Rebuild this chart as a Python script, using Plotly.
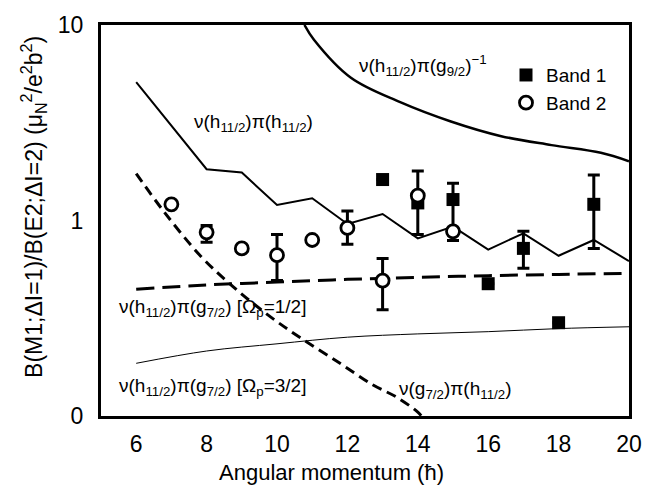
import plotly.graph_objects as go

FONT = "Liberation Sans, Arial, Helvetica, sans-serif"

# Band data (open circles = Band 2, filled squares = Band 1)
band2_x = [7, 8, 9, 10, 11, 12, 13, 14, 15]
band2_y = [1.21, 0.87, 0.72, 0.665, 0.795, 0.916, 0.493, 1.34, 0.88]
band2_err_up = [None, 0.074, None, 0.184, None, 0.204, 0.147, None, None]
band2_err_dn = [None, 0.096, None, 0.172, None, 0.159, 0.143, None, None]

band1_x = [13, 14, 15, 16, 17, 18, 19]
band1_y = [1.62, 1.23, 1.28, 0.475, 0.72, 0.30, 1.21]
band1_err_up = [None, 0.56, 0.27, None, 0.16, None, 0.50]
band1_err_dn = [None, 0.382, 0.49, None, 0.15, None, 0.49]

# Theoretical curves
hh_x = [6, 8, 9, 10, 11, 12, 13, 14, 15, 16, 17, 18, 19, 20]
hh_y = [5.1, 1.83, 1.76, 1.2, 1.30, 0.96, 1.08, 0.81, 0.93, 0.71, 0.86, 0.66, 0.795, 0.62]

hg9_x = [10.78, 11.05, 12.1, 13.5, 14.94, 16.37, 17.8, 19.2, 20]
hg9_y = [10, 8.4, 5.37, 4.03, 3.21, 2.70, 2.43, 2.22, 2.01]

hg7a_x = [6, 8, 10, 12, 14, 16, 18, 20]
hg7a_y = [0.445, 0.468, 0.484, 0.50, 0.512, 0.522, 0.53, 0.537]

hg7b_x = [6, 8, 10, 12, 14, 16, 18, 20]
hg7b_y = [0.186, 0.215, 0.234, 0.253, 0.263, 0.27, 0.28, 0.286]

gh_x = [6, 6.79, 7.84, 8.75, 9.74, 10.68, 11.79, 12.73, 13.41, 14.0, 14.1]
gh_y = [1.738, 1.109, 0.655, 0.459, 0.329, 0.250, 0.186, 0.144, 0.1245, 0.1047, 0.1]

x_ticks = [6, 8, 10, 12, 14, 16, 18, 20]
y_tickvals = [0.1, 1, 10]
y_ticktext = ["0", "1", "10"]

fig = go.Figure()

fig.add_trace(go.Scatter(x=hg9_x, y=hg9_y, mode="lines", line=dict(color="black", width=2.5, shape="spline"),
                         showlegend=False, hoverinfo="skip"))
fig.add_trace(go.Scatter(x=hh_x, y=hh_y, mode="lines", line=dict(color="black", width=2),
                         showlegend=False, hoverinfo="skip"))
fig.add_trace(go.Scatter(x=hg7a_x, y=hg7a_y, mode="lines",
                         line=dict(color="black", width=3, dash="18px,8px", shape="spline"),
                         showlegend=False, hoverinfo="skip"))
fig.add_trace(go.Scatter(x=hg7b_x, y=hg7b_y, mode="lines", line=dict(color="black", width=1, shape="spline"),
                         showlegend=False, hoverinfo="skip"))
fig.add_trace(go.Scatter(x=gh_x, y=gh_y, mode="lines",
                         line=dict(color="black", width=3, dash="10px,6px", shape="spline", smoothing=1),
                         showlegend=False, hoverinfo="skip"))

fig.add_trace(go.Scatter(
    x=band1_x, y=band1_y, mode="markers", name="Band 1",
    marker=dict(symbol="square", size=13, color="black", line=dict(width=0)),
    error_y=dict(type="data", symmetric=False, array=band1_err_up, arrayminus=band1_err_dn,
                 color="black", thickness=3, width=6),
))
fig.add_trace(go.Scatter(
    x=band2_x, y=band2_y, mode="markers", name="Band 2",
    marker=dict(symbol="circle", size=13, color="white", line=dict(width=2.8, color="black")),
    error_y=dict(type="data", symmetric=False, array=band2_err_up, arrayminus=band2_err_dn,
                 color="black", thickness=3, width=6),
))

L, R, T, B = 101, 38, 14, 73
W, H = 667, 489
pw, ph = W - L - R, H - T - B

def px(xp):
    return (xp - L) / pw

def py(yp):
    return (H - B - yp) / ph

ann_font = dict(family=FONT, size=19, color="black")
labels = [
    ("ν(h<sub>11/2</sub>)π(g<sub>9/2</sub>)<sup>−1</sup>", 357, 56),
    ("ν(h<sub>11/2</sub>)π(h<sub>11/2</sub>)", 192, 115),
    ("ν(h<sub>11/2</sub>)π(g<sub>7/2</sub>) [Ω<sub>p</sub>=1/2]", 117, 305),
    ("ν(h<sub>11/2</sub>)π(g<sub>7/2</sub>) [Ω<sub>p</sub>=3/2]", 117, 386),
    ("ν(g<sub>7/2</sub>)π(h<sub>11/2</sub>)", 397, 389),
]
for txt, xx, yy in labels:
    fig.add_annotation(text=txt, x=px(xx), y=py(yy), xref="paper", yref="paper",
                       xanchor="left", yanchor="middle", showarrow=False, font=ann_font)

fig.add_annotation(text="Angular momentum (ħ)", x=px(331), y=py(474), xref="paper", yref="paper",
                   xanchor="center", yanchor="middle", showarrow=False,
                   font=dict(family=FONT, size=22, color="black"))
fig.add_annotation(text="B(M1;ΔI=1)/B(E2;ΔI=2) (μ<sub>N</sub><sup>2</sup>/e<sup>2</sup>b<sup>2</sup>)",
                   x=px(33), y=py(201), xref="paper", yref="paper", textangle=-90,
                   xanchor="center", yanchor="middle", showarrow=False,
                   font=dict(family=FONT, size=23, color="black"))

fig.update_xaxes(range=[5, 20], tickvals=x_ticks, ticks="", showgrid=False, zeroline=False,
                 showline=True, linecolor="black", linewidth=3, mirror=True,
                 tickfont=dict(family=FONT, size=23, color="black"), ticklabelstandoff=5)
fig.update_yaxes(type="log", range=[-1, 1], tickvals=y_tickvals, ticktext=y_ticktext, ticks="",
                 showgrid=False, zeroline=False, showline=True, linecolor="black", linewidth=3,
                 mirror=True, tickfont=dict(family=FONT, size=23, color="black"), ticklabelstandoff=10)

fig.update_layout(
    width=W, height=H, margin=dict(l=L, r=R, t=T, b=B),
    paper_bgcolor="white", plot_bgcolor="white",
    font=dict(family=FONT, color="black"),
    legend=dict(x=px(506), y=py(46), xanchor="left", yanchor="top", bgcolor="rgba(0,0,0,0)",
                font=dict(family=FONT, size=19, color="black"), tracegroupgap=0, itemwidth=30),
)

fig.write_html("out.html")
